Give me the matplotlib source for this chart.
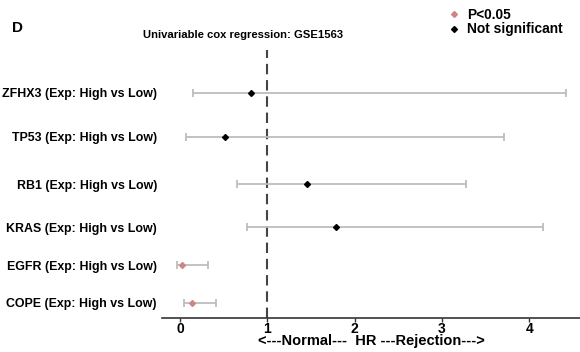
import matplotlib
matplotlib.use("Agg")
import matplotlib.pyplot as plt
from matplotlib.lines import Line2D

plt.rcParams["font.family"] = ["Liberation Sans", "DejaVu Sans"]
plt.rcParams["font.weight"] = "bold"

GENES = ["ZFHX3", "TP53", "RB1", "KRAS", "EGFR", "COPE"]
HR = [0.81, 0.52, 1.455, 1.79, 0.02, 0.14]
CI_LOW = [0.145, 0.07, 0.65, 0.77, -0.03, 0.05]
CI_HIGH = [4.42, 3.71, 3.27, 4.16, 0.32, 0.41]
SIGNIFICANT = [False, False, False, False, True, True]
XTICKS = [0, 1, 2, 3, 4]

SIG_COLOR = "#d08585"
NS_COLOR = "#000000"
BAR_COLOR = "#bdbdbd"

# row centres (top to bottom), the spacing in the original is not even
ROW_POS = [92.7, 136.7, 184.3, 227.3, 265.0, 302.7]


def main():
    fig = plt.figure(figsize=(5.8, 3.52), dpi=100)
    ax = fig.add_axes([162 / 580, 34.3 / 352, 418 / 580, 267.7 / 352])

    for y, lo, hi, hr, sig in zip(ROW_POS, CI_LOW, CI_HIGH, HR, SIGNIFICANT):
        ax.errorbar(hr, y, xerr=[[hr - lo], [hi - hr]], fmt="none",
                    ecolor=BAR_COLOR, elinewidth=1.3, capsize=3.2, capthick=1.3,
                    zorder=2)
        ax.plot(hr, y, marker="D", markersize=3.0,
                color=SIG_COLOR if sig else NS_COLOR, zorder=3)

    ax.axvline(1, color="#444444", linestyle=(0, (5, 2.8)), linewidth=1.5,
               zorder=1)

    ax.set_xlim(-0.206, 4.58)
    ax.set_ylim(317.7, 50)
    ax.set_yticks(ROW_POS)
    ax.set_yticklabels([f"{g} (Exp: High vs Low)" for g in GENES],
                       fontsize=8.9, fontweight="bold")
    ax.tick_params(axis="y", length=0, pad=3.6)
    ax.set_xticks(XTICKS)
    ax.set_xticklabels([str(t) for t in XTICKS], fontsize=10,
                       fontweight="bold")
    ax.tick_params(axis="x", length=3, width=1, color="#333333", pad=0)
    ax.set_xlabel("<---Normal---  HR ---Rejection--->", fontsize=10.5,
                  fontweight="bold", labelpad=-1)

    for side in ["top", "right", "left"]:
        ax.spines[side].set_visible(False)
    ax.spines["bottom"].set_color("#333333")
    ax.spines["bottom"].set_linewidth(1.2)

    fig.text(243 / 580, 1 - 35 / 352, "Univariable cox regression: GSE1563",
             ha="center", va="center", fontsize=8.1, fontweight="bold")
    fig.text(12 / 580, 1 - 28 / 352, "D", ha="left", va="center",
             fontsize=11, fontweight="bold")

    handles = [
        Line2D([], [], marker="D", linestyle="none", markersize=3.0,
               color=SIG_COLOR, label="P<0.05"),
        Line2D([], [], marker="D", linestyle="none", markersize=3.0,
               color=NS_COLOR, label="Not significant"),
    ]
    fig.legend(handles=handles, loc="center left",
               bbox_to_anchor=(442 / 580, 1 - 22 / 352), frameon=False,
               prop={"size": 9.9, "weight": "bold"}, handlelength=0.8,
               handletextpad=0.5, labelspacing=0.05, borderpad=0)

    fig.savefig("out.png", dpi=100)
    plt.close(fig)


if __name__ == "__main__":
    main()
